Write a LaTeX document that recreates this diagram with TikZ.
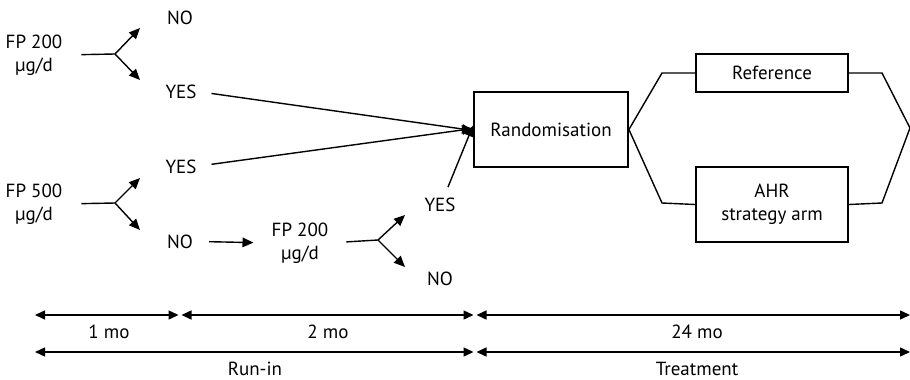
\documentclass[tikz,border=0pt]{standalone}
\usepackage{fontspec}
\setmainfont{PT Sans}
\usetikzlibrary{arrows.meta}

\begin{document}
\begin{tikzpicture}[x=1pt,y=-1pt,
    every node/.style={font=\fontsize{19}{23}\selectfont,inner sep=0pt},
    txt/.style={anchor=base},
    fp/.style={align=center},
    box/.style={draw,line width=1.8pt,inner sep=0pt},
    arr/.style={line width=1.4pt,-{Triangle[length=11pt,width=9.5pt]}},
    ln/.style={line width=1.4pt},
    span/.style={line width=1.4pt,{Triangle[length=10pt,width=9pt]}-{Triangle[length=10pt,width=9pt]}}]
  \useasboundingbox (0,0) rectangle (910,380);

  % run-in
  \node[fp] (fpA) at (34,55) {FP 200\\µg/d};
  \node[fp] (fpB) at (34,204) {FP 500\\µg/d};
  \node[fp] (fpC) at (300,243) {FP 200\\µg/d};

  \node[txt] (noA) at (180,24) {NO};
  \node[txt] (yesA) at (181,98) {YES};
  \node[txt] (yesB) at (181,173) {YES};
  \node[txt] (noB) at (180,248) {NO};
  \node[txt] (yesC) at (440,211) {YES};
  \node[txt] (noC) at (440,285) {NO};

  \coordinate (fA) at (115,54);
  \coordinate (fB) at (115,203);
  \coordinate (fC) at (378,240);

  \draw[ln,shorten <=19pt] (fpA.east) -- (fA);
  \draw[arr] (fA) -- ++(25,-26);
  \draw[arr] (fA) -- ++(25,26);
  \draw[ln,shorten <=19pt] (fpB.east) -- (fB);
  \draw[arr] (fB) -- ++(25,-25);
  \draw[arr] (fB) -- ++(25,27);
  \draw[ln,shorten <=18pt] (fpC.east) -- (fC);
  \draw[arr] (fC) -- ++(27,-25);
  \draw[arr] (fC) -- ++(27,27);
  \draw[arr,shorten <=16pt,shorten >=18pt] (noB.east) -- (fpC.west);

  % randomisation and arms
  \node[box,minimum width=154,minimum height=75] (rand) at (551,129.5) {Randomisation};
  \node[box,minimum width=152,minimum height=38] (ref) at (772,73) {Reference};
  \node[box,minimum width=152,minimum height=75,align=center] (ahr) at (772,204.5) {AHR\\strategy arm};

  \draw[arr,shorten <=15pt] (yesA.east) -- ([yshift=-1pt]rand.west);
  \draw[arr,shorten <=15pt] (yesB.east) -- ([yshift=1pt]rand.west);
  \draw[arr] (448,187) -- ([yshift=4pt]rand.west);

  \coordinate (end) at (910,128);
  \draw[ln] (rand.east) -- (662,73) -- (ref.west);
  \draw[ln] (rand.east) -- (662,203) -- (ahr.west);
  \draw[ln] (ref.east) -- (882,73) -- (end);
  \draw[ln] (ahr.east) -- (882,203) -- (end);

  % time line
  \coordinate (a0) at (35,315);
  \coordinate (a1) at (180,315);
  \coordinate (a2) at (475,315);
  \coordinate (a3) at (910,315);
  \coordinate (b0) at (35,352);
  \coordinate (b2) at (475,352);
  \coordinate (b3) at (910,352);
  \draw[span,shorten >=1.5pt] (a0) -- (a1);
  \draw[span,shorten <=1.5pt,shorten >=1.5pt] (a1) -- (a2);
  \draw[span,shorten <=1.5pt] (a2) -- (a3);
  \draw[span,shorten >=1.5pt] (b0) -- (b2);
  \draw[span,shorten <=1.5pt] (b2) -- (b3);

  \node[txt] (m1) at (109,338) {1 mo};
  \node[txt] (m2) at (328,338) {2 mo};
  \node[txt] (m3) at (697,338) {24 mo};
  \node[txt] (runin) at (255,375) {Run-in};
  \node[txt] (treat) at (697,375) {Treatment};
\end{tikzpicture}
\end{document}
